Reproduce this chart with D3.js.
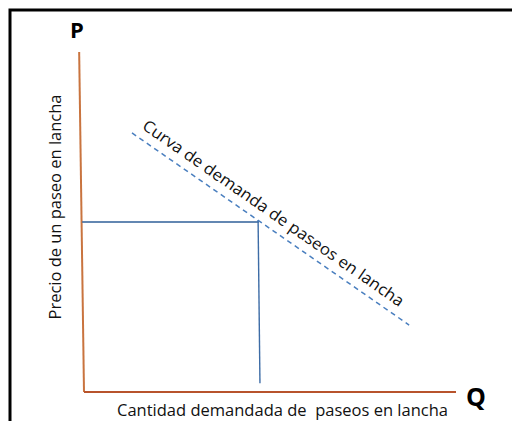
<!DOCTYPE html>
<html>
<head>
<meta charset="utf-8">
<script src="https://cdn.jsdelivr.net/npm/d3@7"></script>
<style>
  body { margin: 0; background: #fff; }
  text { font-family: "Open Sans", "Liberation Sans", sans-serif; }
</style>
</head>
<body>
<div id="chart"></div>
<script>
// values (conceptual units, 0..10 on both axes)
var yAxisPts = [[-0.13, 10], [0, 0]];
var xAxisPts = [[0, 0], [10, 0]];
var demandPts = [[1.29, 7.62], [8.74, 1.97]];
var pricePts = [[-0.05, 5.0], [4.70, 5.0]];
var quantityPts = [[4.68, 5.05], [4.73, 0.26]];

var axisTitles = ["P", "Q"];
var yLabel = "Precio de un paseo en lancha";
var xLabel = "Cantidad demandada de\u00a0 paseos en lancha";
var curveLabel = "Curva de demanda de paseos en lancha";

var width = 512, height = 421;

var svg = d3.select("#chart").append("svg")
    .attr("width", width)
    .attr("height", height);

// frame (left and top edges only)
svg.append("path")
    .attr("d", "M10,425 L10,10 L515,10")
    .attr("fill", "none")
    .attr("stroke", "#000")
    .attr("stroke-width", 3);

var x = d3.scaleLinear().domain([0, 10]).range([84, 456]);
var y = d3.scaleLinear().domain([0, 10]).range([392, 52]);

var line = d3.line()
    .x(function(d) { return x(d[0]); })
    .y(function(d) { return y(d[1]); });

// axes
svg.append("path")
    .attr("d", line(yAxisPts))
    .attr("fill", "none")
    .attr("stroke", "#c9743f")
    .attr("stroke-width", 2);

svg.append("path")
    .attr("d", line(xAxisPts))
    .attr("fill", "none")
    .attr("stroke", "#b8532c")
    .attr("stroke-width", 2);

// price and quantity guide lines
svg.append("path")
    .attr("d", line(pricePts))
    .attr("fill", "none")
    .attr("stroke", "#2f5f99")
    .attr("stroke-width", 1.6);

svg.append("path")
    .attr("d", line(quantityPts))
    .attr("fill", "none")
    .attr("stroke", "#3d6ca6")
    .attr("stroke-width", 1.4);

// demand curve
svg.append("path")
    .attr("d", line(demandPts))
    .attr("fill", "none")
    .attr("stroke", "#4a7fbf")
    .attr("stroke-width", 1.5)
    .attr("stroke-dasharray", "5,4");

// label along the demand curve
var x0 = x(demandPts[0][0]), y0 = y(demandPts[0][1]);
var x1 = x(demandPts[1][0]), y1 = y(demandPts[1][1]);
var angle = Math.atan2(y1 - y0, x1 - x0) * 180 / Math.PI;

svg.append("text")
    .attr("transform", "translate(" + x0 + "," + y0 + ") rotate(" + angle + ")")
    .attr("x", 5)
    .attr("y", -9)
    .attr("textLength", 314)
    .attr("lengthAdjust", "spacingAndGlyphs")
    .style("font-size", "16px")
    .style("fill", "#111")
    .text(curveLabel);

// axis labels
svg.append("text")
    .attr("transform", "translate(61,207) rotate(-90)")
    .attr("text-anchor", "middle")
    .attr("textLength", 225)
    .attr("lengthAdjust", "spacingAndGlyphs")
    .style("font-size", "15.5px")
    .style("fill", "#111")
    .text(yLabel);

svg.append("text")
    .attr("x", 117)
    .attr("y", 416)
    .attr("textLength", 331)
    .attr("lengthAdjust", "spacingAndGlyphs")
    .style("font-size", "15.5px")
    .style("fill", "#111")
    .text(xLabel);

// P and Q
svg.append("text")
    .attr("x", 77)
    .attr("y", 38)
    .attr("text-anchor", "middle")
    .style("font-size", "22px")
    .style("font-weight", "bold")
    .style("fill", "#000")
    .text(axisTitles[0]);

svg.append("text")
    .attr("x", 476)
    .attr("y", 406)
    .attr("text-anchor", "middle")
    .style("font-size", "25px")
    .style("font-weight", "bold")
    .style("fill", "#000")
    .text(axisTitles[1]);
</script>
</body>
</html>
